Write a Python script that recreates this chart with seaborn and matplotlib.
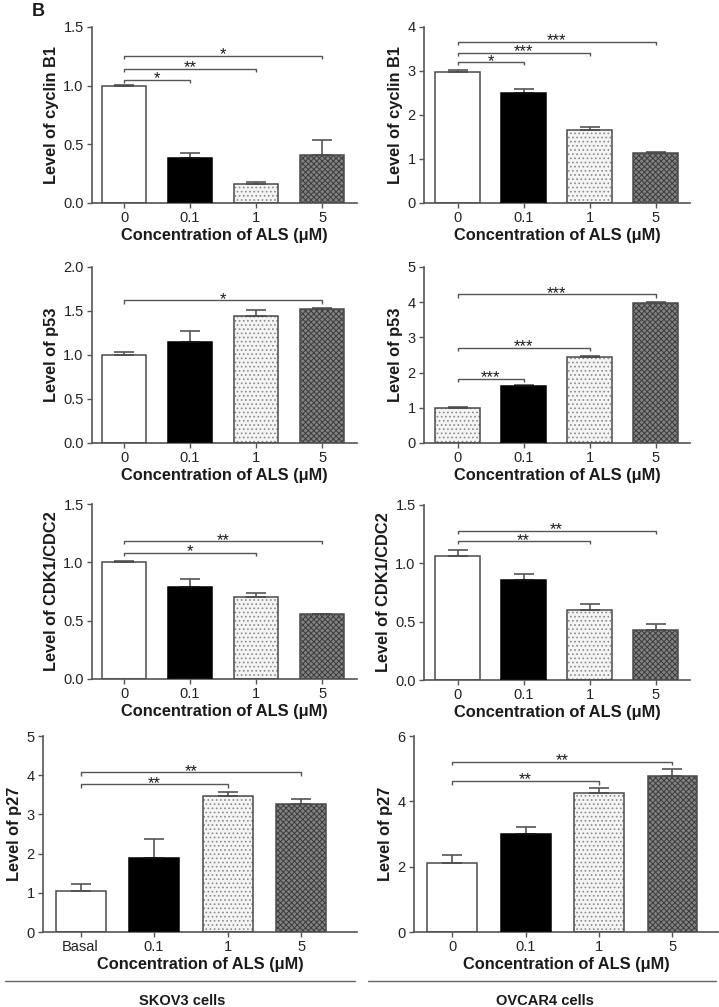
import numpy as np
import pandas as pd
import matplotlib
matplotlib.use("Agg")
import matplotlib.pyplot as plt
from matplotlib.patches import Rectangle
from matplotlib.lines import Line2D
import seaborn as sns

sns.set_theme(style="ticks")
plt.rcParams["font.family"] = ["Liberation Sans", "DejaVu Sans"]
plt.rcParams["hatch.linewidth"] = 0.7

# ---------------- data ----------------
conc = ["0", "0.1", "1", "5"]
conc_basal = ["Basal", "0.1", "1", "5"]

cyclin_skov = [1.0, 0.38, 0.16, 0.41]
cyclin_skov_err = [0.005, 0.045, 0.015, 0.13]
cyclin_ovcar = [2.97, 2.50, 1.65, 1.13]
cyclin_ovcar_err = [0.05, 0.10, 0.07, 0.04]

p53_skov = [1.0, 1.15, 1.44, 1.525]
p53_skov_err = [0.03, 0.12, 0.07, 0.005]
p53_ovcar = [1.0, 1.62, 2.43, 3.99]
p53_ovcar_err = [0.02, 0.03, 0.03, 0.02]

cdk_skov = [1.0, 0.79, 0.70, 0.553]
cdk_skov_err = [0.01, 0.07, 0.04, 0.003]
cdk_ovcar = [1.065, 0.86, 0.60, 0.43]
cdk_ovcar_err = [0.05, 0.05, 0.05, 0.05]

p27_skov = [1.04, 1.90, 3.47, 3.27]
p27_skov_err = [0.19, 0.46, 0.10, 0.13]
p27_ovcar = [2.12, 3.00, 4.26, 4.79]
p27_ovcar_err = [0.25, 0.22, 0.14, 0.19]

# significance brackets: (from index, to index, height, label)
sig_cyclin_skov = [(0, 1, 1.05, "*"), (0, 2, 1.145, "**"), (0, 3, 1.255, "*")]
sig_cyclin_ovcar = [(0, 1, 3.2, "*"), (0, 2, 3.41, "***"), (0, 3, 3.66, "***")]
sig_p53_skov = [(0, 3, 1.62, "*")]
sig_p53_ovcar = [(0, 1, 1.82, "***"), (0, 2, 2.70, "***"), (0, 3, 4.22, "***")]
sig_cdk_skov = [(0, 2, 1.08, "*"), (0, 3, 1.18, "**")]
sig_cdk_ovcar = [(0, 2, 1.19, "**"), (0, 3, 1.28, "**")]
sig_p27_skov = [(0, 2, 3.77, "**"), (0, 3, 4.07, "**")]
sig_p27_ovcar = [(0, 2, 4.62, "**"), (0, 3, 5.21, "**")]

styles_std = ["white", "black", "dots", "check"]
styles_p53_ovcar = ["dots", "black", "dots", "check"]

EDGE = "#4a4a4a"
AXC = "#555555"
TXT = "#1a1a1a"

W, H = 719, 1007
fig = plt.figure(figsize=(W / 100, H / 100), dpi=100)

def add_ax(l, t, r, b):
    return fig.add_axes([l / W, 1 - b / H, (r - l) / W, (b - t) / H])

panels = [
    # (box px, labels, vals, errs, sigs, ylabel, ymax, ystep, fmt, xlim, styles)
    ((92, 27, 357, 203), conc, cyclin_skov, cyclin_skov_err, sig_cyclin_skov,
     "Level of cyclin B1", 1.5, 0.5, "{:.1f}", (-0.485, 3.53), styles_std),
    ((424, 27, 690, 203), conc, cyclin_ovcar, cyclin_ovcar_err, sig_cyclin_ovcar,
     "Level of cyclin B1", 4, 1, "{:.0f}", (-0.51, 3.52), styles_std),
    ((92, 267, 357, 443), conc, p53_skov, p53_skov_err, sig_p53_skov,
     "Level of p53", 2.0, 0.5, "{:.1f}", (-0.485, 3.53), styles_std),
    ((424, 267, 690, 443), conc, p53_ovcar, p53_ovcar_err, sig_p53_ovcar,
     "Level of p53", 5, 1, "{:.0f}", (-0.51, 3.52), styles_p53_ovcar),
    ((92, 504, 357, 679), conc, cdk_skov, cdk_skov_err, sig_cdk_skov,
     "Level of CDK1/CDC2", 1.5, 0.5, "{:.1f}", (-0.485, 3.53), styles_std),
    ((424, 505, 690, 680), conc, cdk_ovcar, cdk_ovcar_err, sig_cdk_ovcar,
     "Level of CDK1/CDC2", 1.5, 0.5, "{:.1f}", (-0.51, 3.52), styles_std),
    ((43, 736, 357, 932), conc_basal, p27_skov, p27_skov_err, sig_p27_skov,
     "Level of p27", 5, 1, "{:.0f}", (-0.51, 3.76), styles_std),
    ((414, 736, 718, 932), conc, p27_ovcar, p27_ovcar_err, sig_p27_ovcar,
     "Level of p27", 6, 2, "{:.0f}", (-0.52, 3.62), styles_std),
]

face = {"white": "white", "black": "black", "dots": "#f4f4f4", "check": "#828282"}
hatch = {"white": None, "black": None, "dots": "....", "check": "xxxxxx"}
hcol = {"white": EDGE, "black": "black", "dots": "#8a8a8a", "check": "#3c3c3c"}

for box, labels, vals, errs, sigs, ylab, ymax, ystep, fmt, xlim, styles in panels:
    ax = add_ax(*box)
    df = pd.DataFrame({"c": labels, "v": vals})
    sns.barplot(data=df, x="c", y="v", hue="c", order=labels, hue_order=labels,
                palette=[face[s] for s in styles], legend=False, width=0.68,
                errorbar=None, saturation=1, ax=ax, linewidth=0)
    for cont, st in zip(ax.containers, styles):
        for p in cont:
            p.set_facecolor(face[st])
            if hatch[st]:
                p.set_hatch(hatch[st])
            p.set_edgecolor(hcol[st])
            p.set_linewidth(0)
            ax.add_patch(Rectangle(p.get_xy(), p.get_width(), p.get_height(),
                                   fill=False, ec=EDGE if st != "black" else "black",
                                   lw=1.1, zorder=3))
    xs = np.arange(len(vals))
    ax.errorbar(xs, vals, yerr=[np.zeros(len(vals)), errs], fmt="none",
                ecolor=AXC, elinewidth=1.2, capsize=7.5, capthick=1.2, zorder=2)
    drop = ymax * 0.018
    for i, j, y, s in sigs:
        ax.plot([i, i, j, j], [y - drop, y, y, y - drop], color=AXC, lw=1.0,
                solid_capstyle="butt", clip_on=False)
        ax.annotate(s, xy=((i + j) / 2, y), xytext=(0, -2.5),
                    textcoords="offset points", ha="center", va="baseline",
                    fontsize=12, color=TXT)
    ax.set_xlim(*xlim)
    ax.set_ylim(0, ymax)
    ticks = np.arange(0, ymax + ystep / 2, ystep)
    ax.set_yticks(ticks)
    ax.set_yticklabels([fmt.format(t) for t in ticks])
    ax.set_xticks(xs)
    ax.set_xticklabels(labels)
    sns.despine(ax=ax)
    for sp in ["left", "bottom"]:
        ax.spines[sp].set_color(AXC)
        ax.spines[sp].set_linewidth(1.2)
    ax.tick_params(axis="both", colors=AXC, labelcolor="#222222", labelsize=10.5,
                   length=3.5, width=1.0, pad=2.5)
    ax.set_ylabel(ylab, fontsize=11.8, fontweight="bold", color=TXT, labelpad=3)
    ax.set_xlabel("Concentration of ALS (μM)", fontsize=11.8, fontweight="bold",
                  color=TXT, labelpad=2)
    ax.set_facecolor("none")

fig.text(38 / W, 1 - 11 / H, "B", fontsize=13, fontweight="bold", color=TXT,
         ha="center", va="center")
for x0, x1, name, xc in [(5, 355, "SKOV3 cells", 182), (368, 716, "OVCAR4 cells", 545)]:
    fig.add_artist(Line2D([x0 / W, x1 / W], [1 - 981 / H, 1 - 981 / H],
                          color="#666666", lw=1.0))
    fig.text(xc / W, 1 - 1001 / H, name, fontsize=10.5, fontweight="bold",
             color=TXT, ha="center", va="center")

fig.savefig("out.png", dpi=100, facecolor="white")
